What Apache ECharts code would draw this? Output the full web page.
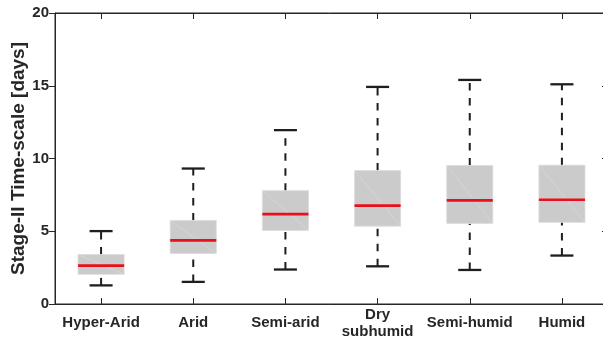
<!DOCTYPE html>
<html>
<head>
<meta charset="utf-8">
<script src="https://cdn.jsdelivr.net/npm/echarts@6/dist/echarts.min.js"></script>
<style>html,body{margin:0;padding:0;background:#fff;}#c{width:603px;height:338px;}</style>
</head>
<body>
<div id="c"></div>
<script>
var categories = ['Hyper-Arid', 'Arid', 'Semi-arid', 'Dry\nsubhumid', 'Semi-humid', 'Humid'];
var lowerWhisker = [1.28, 1.52, 2.37, 2.59, 2.34, 3.33];
var q1Values     = [2.04, 3.47, 5.06, 5.35, 5.54, 5.61];
var medianValues = [2.64, 4.37, 6.18, 6.76, 7.12, 7.17];
var q3Values     = [3.40, 5.74, 7.79, 9.17, 9.52, 9.54];
var upperWhisker = [5.01, 9.31, 11.95, 14.92, 15.40, 15.10];
var yTicks = [0, 5, 10, 15, 20];

var TXT = '#262626';
var FONT = '"Liberation Sans", Arial, sans-serif';

var data = categories.map(function (c, i) {
  return [i, lowerWhisker[i], q1Values[i], medianValues[i], q3Values[i], upperWhisker[i]];
});

function renderItem(params, api) {
  var x = api.value(0);
  var band = api.size([1, 0])[0];
  var bw = band * 0.5, cw = band * 0.25;
  var pL = api.coord([x, api.value(1)]);
  var p1 = api.coord([x, api.value(2)]);
  var pM = api.coord([x, api.value(3)]);
  var p3 = api.coord([x, api.value(4)]);
  var pU = api.coord([x, api.value(5)]);
  var cx = pM[0];
  var dash = {stroke: '#1e1e1e', lineWidth: 2, lineDash: [7.5, 7.5]};
  return {
    type: 'group',
    children: [
      {type: 'line', shape: {x1: cx, y1: pL[1], x2: cx, y2: p1[1]}, style: dash},
      {type: 'line', shape: {x1: cx, y1: p3[1], x2: cx, y2: pU[1]}, style: dash},
      {type: 'line', shape: {x1: cx - cw / 2, y1: pL[1], x2: cx + cw / 2, y2: pL[1]}, style: {stroke: '#1e1e1e', lineWidth: 2.3}},
      {type: 'line', shape: {x1: cx - cw / 2, y1: pU[1], x2: cx + cw / 2, y2: pU[1]}, style: {stroke: '#1e1e1e', lineWidth: 2.3}},
      {type: 'rect', shape: {x: cx - bw / 2, y: p3[1], width: bw, height: p1[1] - p3[1]}, style: {fill: '#cbcbcb', stroke: '#dcdcdc', lineWidth: 0.8}},
      {type: 'line', shape: {x1: cx - bw / 2, y1: p3[1], x2: cx + bw / 2, y2: p1[1]}, style: {stroke: '#dadada', lineWidth: 0.7}},
      {type: 'line', shape: {x1: cx - bw / 2, y1: pM[1], x2: cx + bw / 2, y2: pM[1]}, style: {stroke: '#e8101a', lineWidth: 2.6}}
    ]
  };
}

var axisLineStyle = {color: TXT, width: 1};

var option = {
  animation: false,
  backgroundColor: '#fff',
  grid: {left: 55, top: 13, width: 553, height: 291, containLabel: false, outerBoundsMode: 'none',
         show: true, borderColor: TXT, borderWidth: 1, backgroundColor: 'transparent'},
  xAxis: [
    {
      type: 'category', data: categories, position: 'bottom', boundaryGap: true,
      axisLine: {show: true, onZero: false, lineStyle: axisLineStyle},
      axisTick: {show: true, inside: true, length: 6, alignWithLabel: true, lineStyle: axisLineStyle},
      axisLabel: {interval: 0, margin: 19, verticalAlign: 'middle', lineHeight: 17, fontSize: 15, fontWeight: 'bold', fontFamily: FONT, color: TXT},
      splitLine: {show: false}
    },
    {
      type: 'category', data: categories, position: 'top', boundaryGap: true,
      axisLine: {show: true, onZero: false, lineStyle: axisLineStyle},
      axisTick: {show: true, inside: true, length: 6, alignWithLabel: true, interval: 0, lineStyle: axisLineStyle},
      axisLabel: {show: false, interval: 0},
      splitLine: {show: false}
    }
  ],
  yAxis: [
    {
      type: 'value', min: yTicks[0], max: yTicks[yTicks.length - 1], interval: yTicks[1] - yTicks[0], position: 'left',
      name: 'Stage-II Time-scale [days]', nameLocation: 'middle', nameGap: 27, nameMoveOverlap: false,
      nameTextStyle: {fontSize: 19, fontWeight: 'bold', fontFamily: FONT, color: TXT},
      axisLine: {show: true, onZero: false, lineStyle: axisLineStyle},
      axisTick: {show: true, inside: false, length: 6, lineStyle: axisLineStyle},
      axisLabel: {margin: 6, fontSize: 15, fontWeight: 'bold', fontFamily: FONT, color: TXT},
      splitLine: {show: false}
    },
    {
      type: 'value', min: yTicks[0], max: yTicks[yTicks.length - 1], interval: yTicks[1] - yTicks[0], position: 'right',
      axisLine: {show: true, onZero: false, lineStyle: axisLineStyle},
      axisTick: {show: true, inside: true, length: 6, lineStyle: axisLineStyle},
      axisLabel: {show: false},
      splitLine: {show: false}
    }
  ],
  series: [{
    type: 'custom', xAxisIndex: 0, yAxisIndex: 0, clip: false,
    renderItem: renderItem, data: data
  }, {
    type: 'line', xAxisIndex: 1, yAxisIndex: 1, data: [], silent: true
  }]
};

var chart = echarts.init(document.getElementById('c'), null, {renderer: 'canvas'});
chart.setOption(option);
</script>
</body>
</html>
